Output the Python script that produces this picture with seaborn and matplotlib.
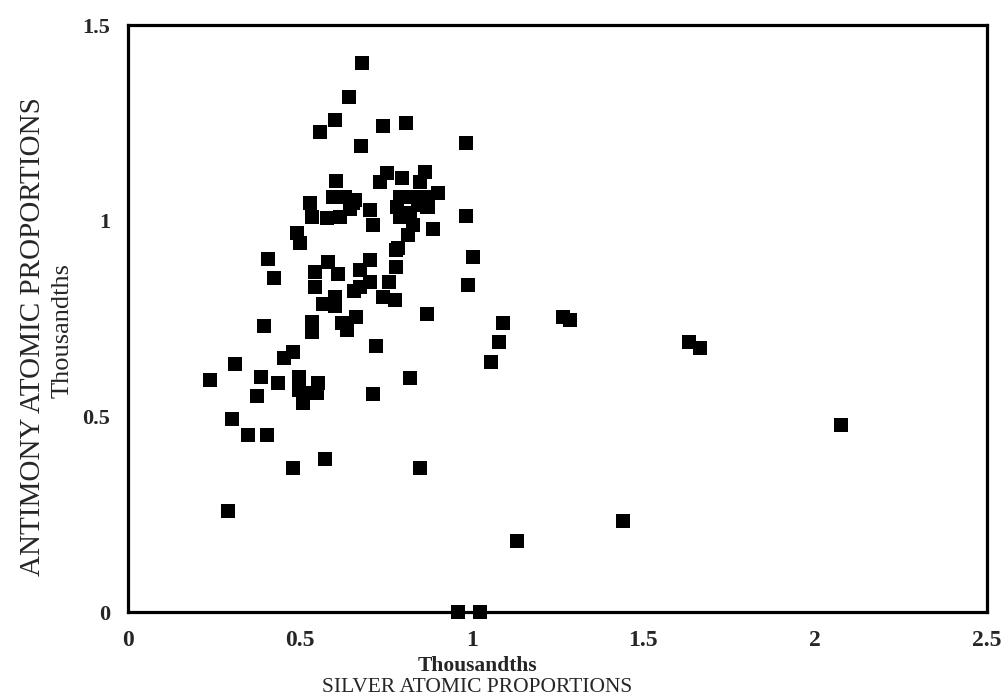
import matplotlib
matplotlib.use("Agg")
import matplotlib.pyplot as plt
import seaborn as sns
import pandas as pd

silver = [0.239, 0.291, 0.302, 0.311, 0.350, 0.376, 0.386, 0.397, 0.405, 0.408,
          0.425, 0.437, 0.454, 0.479, 0.479, 0.493, 0.500, 0.498, 0.498, 0.508,
          0.530, 0.549, 0.554, 0.536, 0.536, 0.544, 0.544, 0.567, 0.573, 0.583,
          0.602, 0.602, 0.612, 0.622, 0.636, 0.658, 0.665, 0.675, 0.675, 0.704,
          0.704, 0.712, 0.722, 0.741, 0.760, 0.777, 0.780, 0.780, 0.821, 0.850,
          0.869, 0.889, 0.983, 0.984, 0.990, 1.005, 0.961, 1.024, 1.056, 1.080,
          1.092, 1.132, 1.267, 1.286, 1.442, 1.633, 1.665, 2.074,
          0.680, 0.643, 0.602, 0.559, 0.743, 0.808, 0.678, 0.604, 0.733, 0.753,
          0.798, 0.864, 0.850, 0.903,
          0.530, 0.535, 0.578, 0.617, 0.646, 0.661, 0.597, 0.632, 0.656, 0.704, 0.714,
          0.792, 0.830, 0.874, 0.782, 0.821, 0.792, 0.830, 0.816, 0.787, 0.845, 0.864, 0.869]

antimony = [0.593, 0.258, 0.493, 0.633, 0.452, 0.552, 0.601, 0.731, 0.452, 0.902,
            0.853, 0.584, 0.648, 0.665, 0.369, 0.968, 0.942, 0.601, 0.567, 0.535,
            0.559, 0.559, 0.584, 0.742, 0.716, 0.870, 0.830, 0.787, 0.391, 0.894,
            0.804, 0.782, 0.864, 0.738, 0.721, 0.821, 0.755, 0.830, 0.874, 0.900,
            0.844, 0.556, 0.681, 0.804, 0.844, 0.796, 0.925, 0.882, 0.598, 0.367,
            0.762, 0.979, 1.012, 1.199, 0.836, 0.906, 0.000, 0.000, 0.639, 0.690,
            0.739, 0.181, 0.755, 0.746, 0.232, 0.690, 0.675, 0.478,
            1.404, 1.315, 1.257, 1.227, 1.242, 1.250, 1.191, 1.101, 1.100, 1.121,
            1.110, 1.125, 1.100, 1.070,
            1.044, 1.010, 1.006, 1.010, 1.031, 1.053, 1.061, 1.061, 1.044, 1.027, 0.989,
            1.061, 1.061, 1.036, 1.036, 1.019, 1.010, 0.989, 0.963, 0.929, 1.040, 1.061, 1.036]

x_ticks = [0, 0.5, 1, 1.5, 2, 2.5]
x_ticklabels = ["0", "0.5", "1", "1.5", "2", "2.5"]
y_ticks = [0, 0.5, 1, 1.5]
y_ticklabels = ["0", "0.5", "1", "1.5"]

df = pd.DataFrame({"silver": silver, "antimony": antimony})

sns.set_style("white")
plt.rcParams["font.family"] = ["Liberation Serif", "DejaVu Serif"]

fig = plt.figure(figsize=(10.05, 6.99), dpi=100)
ax = fig.add_axes([128 / 1005, 1 - 612 / 699, (987 - 128) / 1005, (612 - 25) / 699])

sns.scatterplot(data=df, x="silver", y="antimony", marker="s", s=105,
                color="black", linewidth=0, ax=ax, clip_on=False, zorder=3)

ax.set_xlim(0, 2.5)
ax.set_ylim(0, 1.5)
ax.set_xticks(x_ticks)
ax.set_xticklabels(x_ticklabels, fontsize=17, fontweight="bold")
ax.set_yticks(y_ticks)
ax.set_yticklabels(y_ticklabels, fontsize=16, fontweight="bold")
ax.tick_params(axis="x", direction="in", length=4, width=1, pad=13, color="black")
ax.tick_params(axis="y", direction="in", length=0, pad=13, color="black")
ax.set_xlabel("")
ax.set_ylabel("")
for sp in ax.spines.values():
    sp.set_visible(True)
    sp.set_linewidth(2.3)
    sp.set_color("black")

fig.text(477 / 1005, 1 - 666 / 699, "Thousandths", ha="center", va="center",
         fontsize=15.5, fontweight="bold")
fig.text(477 / 1005, 1 - 687 / 699, "SILVER ATOMIC PROPORTIONS", ha="center",
         va="center", fontsize=15.5)
fig.text(33 / 1005, 1 - 337 / 699, "ANTIMONY ATOMIC PROPORTIONS", ha="center",
         va="center", rotation=90, fontsize=21)
fig.text(63 / 1005, 1 - 330 / 699, "Thousandths", ha="center", va="center",
         rotation=90, fontsize=19)

fig.savefig("out.png", dpi=100, facecolor="white")
